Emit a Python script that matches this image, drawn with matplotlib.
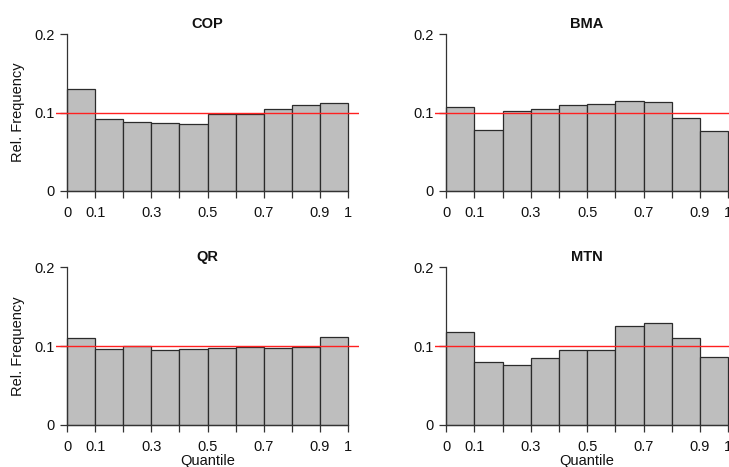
import matplotlib
matplotlib.use("Agg")
import matplotlib.pyplot as plt

plt.rcParams['font.family'] = ['Liberation Sans', 'DejaVu Sans']

bin_edges = [0.0, 0.1, 0.2, 0.3, 0.4, 0.5, 0.6, 0.7, 0.8, 0.9, 1.0]
titles = ["COP", "BMA", "QR", "MTN"]
cop = [0.1305, 0.0913, 0.0878, 0.0866, 0.0857, 0.0977, 0.0977, 0.1040, 0.1100, 0.1117]
bma = [0.1066, 0.0772, 0.1015, 0.1040, 0.1096, 0.1113, 0.1143, 0.1130, 0.0930, 0.0759]
qr = [0.1097, 0.0958, 0.0996, 0.0953, 0.0962, 0.0970, 0.0983, 0.0975, 0.0992, 0.1119]
mtn = [0.1174, 0.0801, 0.0763, 0.0847, 0.0953, 0.0945, 0.1250, 0.1288, 0.1106, 0.0860]
series = [cop, bma, qr, mtn]
x_ticks = [0.0, 0.1, 0.2, 0.3, 0.4, 0.5, 0.6, 0.7, 0.8, 0.9, 1.0]
x_ticklabels = ["0", "0.1", "", "0.3", "", "0.5", "", "0.7", "", "0.9", "1"]
y_ticks = [0.0, 0.1, 0.2]
y_ticklabels = ["0", "0.1", "0.2"]
ref_level = 0.1

W, H = 729, 467
fig = plt.figure(figsize=(W / 100, H / 100), dpi=100)
fig.patch.set_facecolor("white")

# pixel geometry (left, right, top, bottom of plot regions)
cols = [(55.8, 359.3), (435.0, 739.3)]
rows = [(28.0, 197.0), (261.0, 431.0)]

for i, (title, vals) in enumerate(zip(titles, series)):
    r, c = divmod(i, 2)
    l, rr = cols[c]
    t, b = rows[r]
    ax = fig.add_axes([l / W, 1 - b / H, (rr - l) / W, (b - t) / H])
    ax.set_xlim(-0.04, 1.04)
    ax.set_ylim(-0.008, 0.208)
    widths = [bin_edges[k + 1] - bin_edges[k] for k in range(len(vals))]
    ax.bar(bin_edges[:-1], vals, width=widths, align="edge",
           color="#bebebe", edgecolor="#2b2b2b", linewidth=0.9, zorder=2)
    ax.axhline(ref_level, color="#ff2020", linewidth=1.0, zorder=3)
    for s in ["top", "right"]:
        ax.spines[s].set_visible(False)
    ax.spines["bottom"].set_position(("data", 0))
    ax.spines["left"].set_position(("data", 0))
    ax.spines["bottom"].set_bounds(0, 1)
    ax.spines["left"].set_bounds(0, 0.2)
    for s in ["bottom", "left"]:
        ax.spines[s].set_color("#333333")
        ax.spines[s].set_linewidth(0.9)
    ax.set_xticks(x_ticks)
    ax.set_xticklabels(x_ticklabels)
    ax.set_yticks(y_ticks)
    ax.set_yticklabels(y_ticklabels)
    ax.tick_params(axis="both", direction="out", length=5, width=0.9,
                   color="#333333", labelsize=10.5, labelcolor="#111111")
    ax.tick_params(axis="x", pad=6)
    ax.tick_params(axis="y", pad=4)
    ax.set_facecolor("none")
    xc = (l + (rr - l) * (0.5 + 0.04) / 1.08)
    fig.text(xc / W, 1 - (t - 4) / H, title, ha="center", va="center",
             fontsize=10.5, fontweight="bold", color="#111111")
    if c == 0:
        y0 = b - (b - t) * 0.008 / 0.216
        y2 = b - (b - t) * 0.208 / 0.216
        fig.text(18 / W, 1 - ((y0 + y2) / 2 + 0) / H, "Rel. Frequency",
                 rotation=90, ha="center", va="center", fontsize=10.5,
                 color="#111111")
    if r == 1:
        fig.text(xc / W, 1 - 461 / H, "Quantile", ha="center", va="center",
                 fontsize=10.5, color="#111111")

fig.savefig("out.png", dpi=100)
